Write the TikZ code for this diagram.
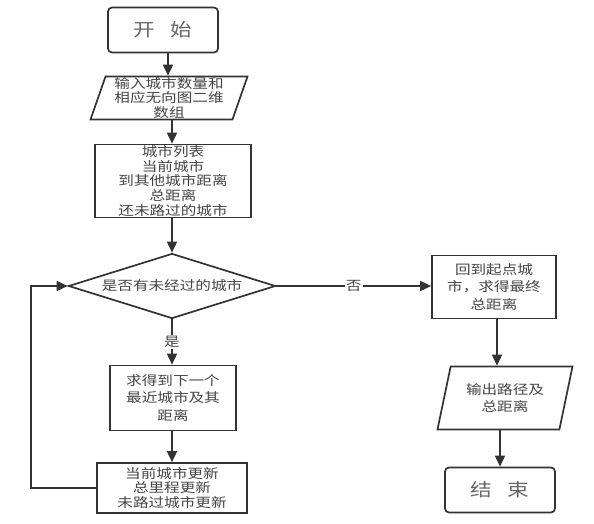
\documentclass[tikz,border=0pt]{standalone}
\usepackage{fontspec}
\setmainfont{Noto Sans CJK SC}[FakeStretch=1.2]
\usetikzlibrary{shapes.geometric,arrows.meta}
\definecolor{lc}{HTML}{333333}
\definecolor{tc}{HTML}{444444}
\begin{document}
\begin{tikzpicture}[x=1pt,y=-1pt,
  base/.style={draw=lc, line width=1.7pt, align=center, text=tc, inner sep=0pt,
    font=\fontsize{13}{14.6}\selectfont},
  proc/.style={base, rectangle},
  loose/.style={font=\fontsize{13}{17.5}\selectfont},
  term/.style={base, rectangle, rounded corners=4pt, minimum width=110pt, minimum height=45pt,
    font=\fontsize{18}{20}\selectfont, text=black!60},
  io/.style={base, trapezium, trapezium stretches body},
  dec/.style={base, diamond, aspect=3.2},
  arr/.style={draw=lc, line width=1.7pt, -{Triangle[length=11pt,width=10pt]}},
  lbl/.style={fill=white, inner sep=1pt, text=tc, font=\fontsize{13}{14}\selectfont}]
\useasboundingbox (0,0) rectangle (594,523);

\node[term] (start) at (163,30) {开\hspace{16pt}始};
\node[io, trapezium left angle=70, trapezium right angle=110,
      minimum width=157pt, minimum height=43pt] (in1) at (169,98)
      {输入城市数量和\\相应无向图二维\\数组};
\node[proc, minimum width=156pt, minimum height=73pt] (list) at (173,181)
      {城市列表\\当前城市\\到其他城市距离\\总距离\\还未路过的城市};
\node[dec, minimum width=207pt, minimum height=65pt] (dec) at (172,286) {是否有未经过的城市};
\node[proc, loose, minimum width=126pt, minimum height=65pt] (step) at (173,398)
      {求得到下一个\\最近城市及其\\距离};
\node[proc, minimum width=150pt, minimum height=50pt] (upd) at (172,488)
      {当前城市更新\\总里程更新\\未路过城市更新};
\node[proc, loose, minimum width=124pt, minimum height=63pt] (back) at (494,287)
      {回到起点城\\市，求得最终\\总距离};
\node[io, loose, trapezium left angle=66, trapezium right angle=114,
      minimum width=135pt, minimum height=63pt] (out) at (505,398)
      {输出路径及\\总距离};
\node[term] (stop) at (500,490) {结\hspace{16pt}束};

\draw[arr] (start.south -| 168,0) -- (168,0 |- in1.north);
\draw[arr] (in1.south -| 172,0) -- (172,0 |- list.north);
\draw[arr] (list.south -| dec.north) -- (dec.north);
\draw[arr] (dec.south) -- node[lbl, pos=0.5] {是} (dec.south |- step.north);
\draw[arr] (step.south -| upd.north) -- (upd.north);
\draw[arr] (upd.west) -- ++(-65,0) |- (dec.west);
\draw[arr] (dec.east) -- node[lbl, pos=0.5] {否} (back.west |- dec.east);
\draw[arr] (497,0 |- back.south) -- (497,0 |- out.north);
\draw[arr] (stop.north |- out.south) -- (stop.north);
\end{tikzpicture}
\end{document}
